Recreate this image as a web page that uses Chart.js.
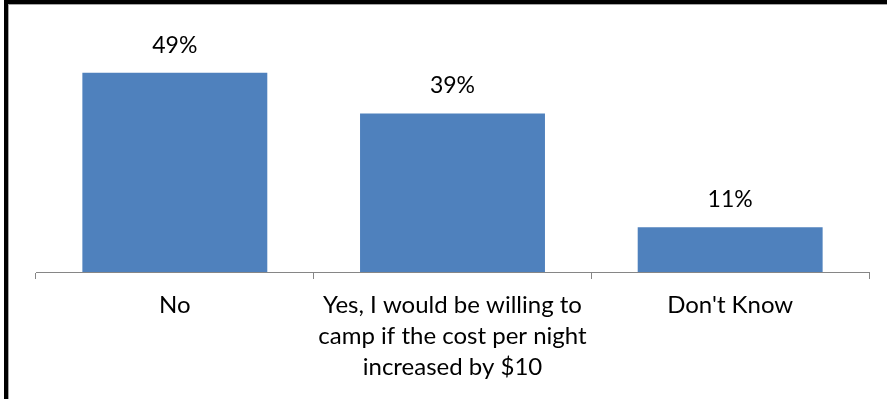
<!DOCTYPE html>
<html>
<head>
<meta charset="utf-8">
<script src="https://cdn.jsdelivr.net/npm/chart.js@4"></script>
<style>
  html, body { margin: 0; padding: 0; background: #fff; }
  #wrap { position: relative; width: 887px; height: 399px; overflow: hidden; }
  #frame { position: absolute; left: 4px; top: 0; width: 900px; height: 420px;
           border-top: 4px solid #000; border-left: 4px solid #000; box-sizing: border-box; }
  #inner { position: absolute; left: 8px; top: 4px; width: 900px; height: 420px;
           border-top: 1px solid #a6a6a6; border-left: 1px solid #a6a6a6; box-sizing: border-box; }
  canvas { position: absolute; left: 0; top: 0; }
</style>
</head>
<body>
<div id="wrap">
  <canvas id="c" width="887" height="399"></canvas>
  <div id="frame"></div>
  <div id="inner"></div>
</div>
<script>
const categories = [
  ["No"],
  ["Yes, I would be willing to", "camp if the cost per night", "increased by $10"],
  ["Don't Know"]
];
const values = [49, 39, 11];
const valueLabels = ["49%", "39%", "11%"];

const FONT = "Lato, 'Open Sans', sans-serif";

const valueLabelPlugin = {
  id: 'valueLabels',
  afterDatasetsDraw(chart) {
    const ctx = chart.ctx;
    const meta = chart.getDatasetMeta(0);
    ctx.save();
    ctx.font = "23px " + FONT;
    ctx.fillStyle = "#000";
    ctx.textAlign = "center";
    ctx.textBaseline = "alphabetic";
    meta.data.forEach((bar, i) => {
      ctx.fillText(valueLabels[i], bar.x, bar.y - 20);
    });
    ctx.restore();
  }
};

new Chart(document.getElementById('c'), {
  type: 'bar',
  data: {
    labels: categories,
    datasets: [{
      data: values,
      backgroundColor: '#4F81BD',
      borderWidth: 0,
      categoryPercentage: 0.666,
      barPercentage: 1.0
    }]
  },
  options: {
    responsive: false,
    animation: false,
    events: [],
    layout: { padding: { left: 36, right: 18, top: 28, bottom: 0 } },
    plugins: { legend: { display: false }, tooltip: { enabled: false } },
    scales: {
      x: {
        offset: true,
        afterFit(scale) { scale.height = 127; },
        border: { display: true, color: '#868686', width: 1 },
        grid: { offset: true, drawOnChartArea: false, drawTicks: true, tickLength: 7, color: '#868686' },
        ticks: {
          color: '#000',
          padding: 11,
          maxRotation: 0,
          autoSkip: false,
          font: { family: FONT, size: 24, lineHeight: 31 / 24 }
        }
      },
      y: {
        display: false,
        min: 0,
        max: 60
      }
    }
  },
  plugins: [valueLabelPlugin]
});
</script>
</body>
</html>
